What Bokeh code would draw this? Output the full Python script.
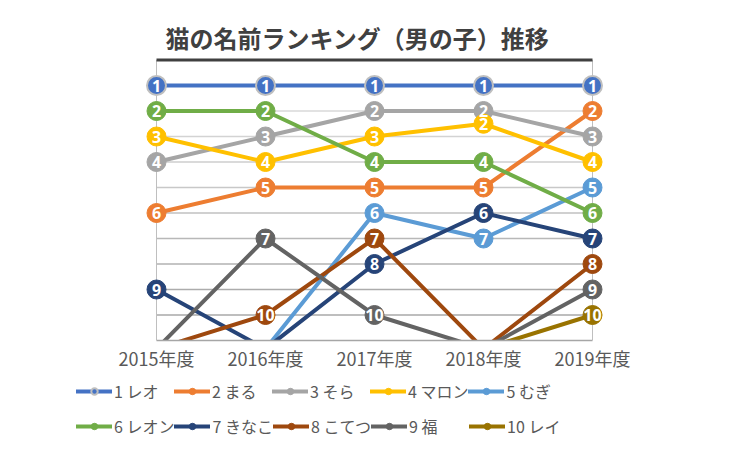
from bokeh.plotting import figure
from bokeh.models import Range1d, Legend, LegendItem, ColumnDataSource
from bokeh.core.properties import value
from bokeh.embed import file_html
from bokeh.resources import INLINE

title = "猫の名前ランキング（男の子）推移"
years = ["2015年度", "2016年度", "2017年度", "2018年度", "2019年度"]
names = ["1 レオ", "2 まる", "3 そら", "4 マロン", "5 むぎ",
         "6 レオン", "7 きなこ", "8 こてつ", "9 福", "10 レイ"]
colors = ["#4472C4", "#ED7D31", "#A5A5A5", "#FFC000", "#5B9BD5",
          "#70AD47", "#264478", "#9E480E", "#636363", "#997300"]

# rank per year (values beyond 10 = outside the top 10, they run off the bottom)
leo = [1, 1, 1, 1, 1]
maru = [6, 5, 5, 5, 2]
sora = [4, 3, 2, 2, 3]
maron = [3, 4, 3, 2.5, 4]
mugi = [11.33, 11.33, 6, 7, 5]
leon = [2, 2, 4, 4, 6]
kinako = [9, 11.33, 8, 6, 7]
kotetsu = [11.33, 10, 7, 11.33, 8]
fuku = [11.33, 7, 10, 11.33, 9]
rei = [11.33, 11.33, 11.33, 11.33, 10]
series = [leo, maru, sora, maron, mugi, leon, kinako, kotetsu, fuku, rei]

JP = "Noto Sans CJK JP"
AXMAX = 11  # bottom of the ranking axis

W, H = 735, 440
X0PX, XPX = 156, 109.0     # pixel of first year, pixels per year
Y0PX, YPX = 59.5, 25.5     # pixel of rank 0, pixels per rank

xr = Range1d(-X0PX / XPX, (W - X0PX) / XPX)
yr = Range1d((H - Y0PX) / YPX, -Y0PX / YPX)

p = figure(width=W, height=H, output_backend="svg", toolbar_location=None,
           x_range=xr, y_range=yr, min_border=0)
p.background_fill_color = "white"
p.border_fill_color = "white"
p.outline_line_color = None
p.xgrid.visible = False
p.ygrid.visible = False
p.xaxis.visible = False
p.yaxis.visible = False

n = len(years)
xs = list(range(n))

# gridlines (light at top, darker toward bottom)
grid_cols = ["#dcdcdc", "#d8d8d8", "#d3d3d3", "#cecece", "#c8c8c8",
             "#c0c0c0", "#b8b8b8", "#b2b2b2", "#acacac", "#a8a8a8"]
ranks = list(range(1, 11))
p.segment(x0=[0] * 10, x1=[n - 1] * 10, y0=ranks, y1=ranks, line_color=grid_cols, line_width=1.5)
# side lines
p.segment(x0=[0, n - 1], x1=[0, n - 1], y0=[0, 0], y1=[AXMAX, AXMAX], line_color="#bfbfbf", line_width=1)

line_rs = []
for vals, c in zip(series, colors):
    line_rs.append(p.line(xs, vals, line_color=c, line_width=4, line_join="round", line_cap="round"))

# mask everything below the bottom of the axis
p.quad(left=xr.start, right=xr.end, top=AXMAX, bottom=yr.start, fill_color="white", line_color=None)
# bottom axis line and title bar
p.segment(x0=[0], x1=[n - 1], y0=[AXMAX], y1=[AXMAX], line_color="#a6a6a6", line_width=1.5)
p.segment(x0=[0], x1=[n - 1], y0=[0], y1=[0], line_color="#404040", line_width=3)

dot_rs = []
for i, (vals, c) in enumerate(zip(series, colors)):
    sx = [x for x, v in zip(xs, vals) if v <= 10]
    sy = [v for v in vals if v <= 10]
    lab = [str(int(v)) for v in sy]
    src = ColumnDataSource(dict(x=sx, y=sy, t=lab))
    if i == 0:
        r = p.scatter("x", "y", source=src, size=19, fill_color=c, line_color="#bfbfbf", line_width=2)
    else:
        r = p.scatter("x", "y", source=src, size=19, fill_color=c, line_color=c, line_width=1)
    dot_rs.append((r, src))

for r, src in dot_rs:
    p.text("x", "y", text="t", source=src, text_align="center", text_baseline="middle",
           text_color="white", text_font=value("Noto Sans"), text_font_style="bold",
           text_font_size="16px")

# category labels
p.text(xs, [AXMAX + 0.67] * n, text=years, text_align="center", text_baseline="middle",
       text_color="#595959", text_font=value(JP), text_font_size="18px")

# title
p.text([1.844], [-0.88], text=[title], text_align="center", text_baseline="middle",
       text_color="#404040", text_font=value(JP), text_font_size="24px", text_font_style="bold")

def make_legend(idx, loc):
    items = [LegendItem(label=names[i], renderers=[line_rs[i], dot_rs[i][0]]) for i in idx]
    lg = Legend(items=items, location=loc, orientation="horizontal",
                glyph_width=36, glyph_height=16, label_standoff=2, label_width=60,
                label_height=20, spacing=0, padding=0, margin=0,
                border_line_color=None, background_fill_alpha=0,
                label_text_font=JP, label_text_font_size="16px", label_text_color="#595959")
    p.add_layout(lg, "center")

make_legend(range(0, 5), (76, 37))
make_legend(range(5, 10), (76, 2))

open("out.html", "w").write(file_html(p, INLINE))
